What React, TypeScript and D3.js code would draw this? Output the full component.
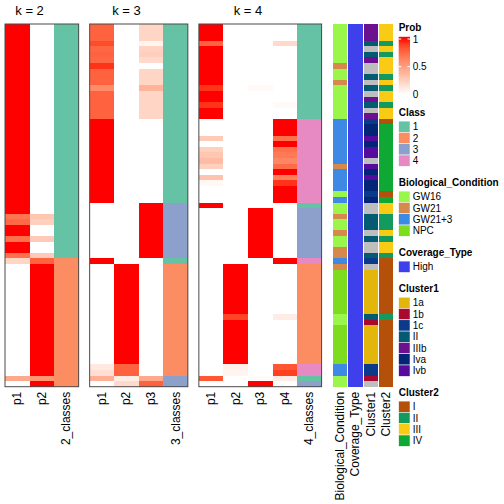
import React from "react";
import * as d3 from "d3";

// ---------- data (65 samples, top to bottom) ----------
const K2_P1 = [1,1,1,1,1,1,1,1,1,1,1,1,1,1,1,1,1,1,1,1,1,1,1,1,1,1,1,1,1,1,1,1,1,1,0.7,0.75,1,1,0.72,1,1,0.72,0.22,0,0,0,0,0,0,0,0,0,0,0,0,0,0,0,0,0,0,0,0,0.45,0];
const K2_P2 = [0,0,0,0,0,0,0,0,0,0,0,0,0,0,0,0,0,0,0,0,0,0,0,0,0,0,0,0,0,0,0,0,0,0,0.3,0.25,0,0,0.28,0,0,0.28,0.78,1,1,1,1,1,1,1,1,1,1,1,1,1,1,1,1,1,1,1,1,0.55,1];
const K2_CLASS = [1,1,1,1,1,1,1,1,1,1,1,1,1,1,1,1,1,1,1,1,1,1,1,1,1,1,1,1,1,1,1,1,1,1,1,1,1,1,1,1,1,1,2,2,2,2,2,2,2,2,2,2,2,2,2,2,2,2,2,2,2,2,2,2,2];

const K3_P1 = [0.78,0.78,0.78,0.86,0.76,0.78,0.76,0.93,0.78,0.78,0.78,0.6,0.78,0.78,0.78,0.78,0.78,1,1,1,1,1,1,1,1,1,1,1,1,1,1,1,0,0,0,0,0,0,0,0,0,0,1,0,0,0,0,0,0,0,0,0,0,0,0,0,0,0,0,0,0,0.12,0.17,0.42,0];
const K3_P2 = [0,0,0,0,0,0,0,0,0,0,0,0,0,0,0,0,0,0,0,0,0,0,0,0,0,0,0,0,0,0,0,0,0,0,0,0,0,0,0,0,0,0,0,1,1,1,1,1,1,1,1,1,1,1,1,1,1,1,1,1,1,0.78,0.78,0.1,0.2];
const K3_P3 = [0.22,0.22,0.22,0.06,0.24,0.26,0.2,0,0.22,0.22,0.22,0.4,0.22,0.22,0.22,0.22,0.22,0,0,0,0,0,0,0,0,0,0,0,0,0,0,0,1,1,1,1,1,1,1,1,1,1,0,0,0,0,0,0,0,0,0,0,0,0,0,0,0,0,0,0,0,0,0,0.45,0.78];
const K3_CLASS = [1,1,1,1,1,1,1,1,1,1,1,1,1,1,1,1,1,1,1,1,1,1,1,1,1,1,1,1,1,1,1,1,3,3,3,3,3,3,3,3,3,3,1,2,2,2,2,2,2,2,2,2,2,2,2,2,2,2,2,2,2,2,2,3,3];

const K4_P1 = [1,1,1,0.78,1,1,1,1,1,1,1,0.93,1,1,0.93,1,1,0,0,0,0.28,0,0.25,0.3,0.36,0.25,0,0.32,0.04,0,0,0,1,0,0,0,0,0,0,0,0,0,0,0,0,0,0,0,0,0,0,0,0,0,0,0,0,0,0,0,0,0,0,0.82,0];
const K4_P2 = [0,0,0,0,0,0,0,0,0,0,0,0,0,0,0,0,0,0,0,0,0,0,0,0,0,0,0,0,0,0,0,0,0,0,0,0,0,0,0,0,0,0,0,1,1,1,1,1,1,1,1,1,0.88,1,1,1,1,1,1,1,1,0.08,0.06,0,0];
const K4_P3 = [0,0,0,0,0,0,0,0,0,0,0,0.03,0,0,0,0,0,0,0,0,0,0,0,0,0,0,0,0,0,0,0,0,0,1,1,1,1,1,1,1,1,1,0,0,0,0,0,0,0,0,0,0,0,0,0,0,0,0,0,0,0,0,0,0.02,1];
const K4_P4 = [0,0,0,0.2,0,0,0,0,0,0,0,0,0,0,0.03,0,0,1,1,1,0.72,1,0.72,0.68,0.62,0.74,1,0.66,0.93,1,1,1,0,0,0,0,0,0,0,0,0,0,1,0,0,0,0,0,0,0,0,0,0.1,0,0,0,0,0,0,0,0,0.82,0.9,0.1,0];
const K4_CLASS = [1,1,1,1,1,1,1,1,1,1,1,1,1,1,1,1,1,4,4,4,4,4,4,4,4,4,4,4,4,4,4,4,1,3,3,3,3,3,3,3,3,3,4,2,2,2,2,2,2,2,2,2,2,2,2,2,2,2,2,2,2,4,4,1,3];

const BIO = ["GW16","GW16","GW16","GW16","GW16","GW16","GW16","GW21","GW16","GW16","GW21","GW16","GW16","GW16","GW16","GW16","GW16","GW21+3","GW21+3","GW21+3","GW21+3","GW21+3","GW21+3","GW21+3","GW21+3","GW21","GW21+3","GW21+3","GW21+3","GW21+3","GW16","GW21+3","GW16","GW16","GW21","GW16","GW16","GW21","GW16","GW16","GW21","GW21","GW21+3","GW21","NPC","NPC","NPC","NPC","NPC","NPC","NPC","NPC","GW16","GW16","NPC","NPC","NPC","NPC","NPC","NPC","NPC","GW21+3","GW21+3","GW16","GW16"];
const COVERAGE = Array.from({ length: 65 }, () => "High");
const CLUSTER1 = ["IIIb","IIIb","IIIb","II","NA","II","IIIb","NA","NA","II","NA","II","NA","IIIb","II","NA","IIIb","1c","Iva","Iva","Ivb","Iva","Ivb","Ivb","NA","Ivb","Iva","Ivb","Iva","Iva","1c","Iva","NA","NA","II","II","II","NA","II","NA","NA","II","1c","NA","1a","1a","1a","1a","1a","1a","1a","1a","II","1b","1a","1a","1a","1a","1a","1a","1a","1c","1c","1b","NA"];
const CLUSTER2 = ["III","III","III","II","III","II","III","III","III","II","III","II","III","III","II","III","III","I","IV","IV","IV","IV","IV","IV","IV","IV","IV","IV","IV","IV","I","IV","III","III","II","II","II","III","II","III","III","II","I","I","I","I","I","I","I","I","I","I","II","I","I","I","I","I","I","I","I","I","I","I","I"];

// ---------- legends ----------
const CLASS_LEVELS = ["1","2","3","4"];
const CLASS_COLORS = ["#66C2A5","#FC8D62","#8DA0CB","#E78AC3"];
const BIO_LEVELS = ["GW16","GW21","GW21+3","NPC"];
const BIO_COLORS = ["#9BF64B","#D5894B","#3D89E4","#7EDC1F"];
const COV_LEVELS = ["High"];
const COV_COLORS = ["#3D40EB"];
const CL1_LEVELS = ["1a","1b","1c","II","IIIb","Iva","Ivb"];
const CL1_COLORS = ["#E2B60A","#A8092C","#0C3A8A","#025A73","#6B1190","#032575","#550C9E"];
const CL2_LEVELS = ["I","II","III","IV"];
const CL2_COLORS = ["#B5500A","#139A5F","#FACB14","#0FA834"];
const NA_COLOR = "#BEBEBE";
const PROB_TICKS = [0, 0.5, 1];

const FONT = "'Liberation Sans', Arial, Helvetica, sans-serif";

export default function App() {
  const N = K2_P1.length;
  const top = 24;
  const bottom = 386.7;
  const rowY = d3.scaleBand<number>().domain(d3.range(N)).range([top, bottom]).padding(0);
  const probColor = d3
    .scaleLinear<string>()
    .domain([0, 1])
    .range(["#FFFFFF", "#FF0000"])
    .interpolate(d3.interpolateLab)
    .clamp(true);
  const classColor = d3.scaleOrdinal<string, string>().domain(CLASS_LEVELS).range(CLASS_COLORS);
  const bioColor = d3.scaleOrdinal<string, string>().domain(BIO_LEVELS).range(BIO_COLORS);
  const covColor = d3.scaleOrdinal<string, string>().domain(COV_LEVELS).range(COV_COLORS);
  const cl1Color = d3.scaleOrdinal<string, string>().domain(CL1_LEVELS).range(CL1_COLORS);
  const cl2Color = d3.scaleOrdinal<string, string>().domain(CL2_LEVELS).range(CL2_COLORS);

  const colW = 24.55;
  const panelGap = 11;
  const panels = [
    { title: "k = 2", probs: [K2_P1, K2_P2], cls: K2_CLASS, clsName: "2_classes" },
    { title: "k = 3", probs: [K3_P1, K3_P2, K3_P3], cls: K3_CLASS, clsName: "3_classes" },
    { title: "k = 4", probs: [K4_P1, K4_P2, K4_P3, K4_P4], cls: K4_CLASS, clsName: "4_classes" },
  ];
  let xCursor = 5;
  const panelLayout = panels.map((p) => {
    const ncol = p.probs.length + 1;
    const names = [...p.probs.map((_, i) => `p${i + 1}`), p.clsName];
    const x = d3.scaleBand<string>().domain(names).range([xCursor, xCursor + ncol * colW]);
    const res = { ...p, x, names, x0: xCursor, width: ncol * colW };
    xCursor += ncol * colW + panelGap;
    return res;
  });

  const annoStart = xCursor + 0.4;
  const annoW = 14.2;
  const annoStep = 15.3;
  const annos = [
    { name: "Biological_Condition", vals: BIO, color: (v: string) => bioColor(v) },
    { name: "Coverage_Type", vals: COVERAGE, color: (v: string) => covColor(v) },
    { name: "Cluster1", vals: CLUSTER1, color: (v: string) => (v === "NA" ? NA_COLOR : cl1Color(v)) },
    { name: "Cluster2", vals: CLUSTER2, color: (v: string) => (v === "NA" ? NA_COLOR : cl2Color(v)) },
  ];

  const labelY = bottom + 5;
  const cellH = rowY.bandwidth();

  // legends
  const lx = 398.7;
  const grid = 11.3;
  const labX = 412.7;
  const legendTitleGap = 12.8;
  const legendGap = 12;
  const probBarH = 59.5;
  const discrete = [
    { title: "Class", levels: CLASS_LEVELS, color: classColor },
    { title: "Biological_Condition", levels: BIO_LEVELS, color: bioColor },
    { title: "Coverage_Type", levels: COV_LEVELS, color: covColor },
    { title: "Cluster1", levels: CL1_LEVELS, color: cl1Color },
    { title: "Cluster2", levels: CL2_LEVELS, color: cl2Color },
  ];
  let ly = 24;
  const probTitleY = ly + 7.3;
  const probBarY = ly + legendTitleGap;
  const probY = d3.scaleLinear().domain([0, 1]).range([probBarY + 57.5, probBarY + 2.2]);
  ly = probBarY + probBarH + legendGap;
  const discLayout = discrete.map((d) => {
    const titleY = ly + 7.3;
    const bodyY = ly + legendTitleGap;
    ly = bodyY + d.levels.length * grid + legendGap;
    return { ...d, titleY, bodyY };
  });
  const gradStops = d3.range(0, 21).map((i) => {
    const yy = probBarY + (i / 20) * probBarH;
    return { off: i / 20, c: probColor(Math.max(0, Math.min(1, probY.invert(yy)))) };
  });

  return (
    <svg
      width={504}
      height={504}
      style={{ position: "absolute", left: 0, top: 0, background: "#fff" }}
      fontFamily={FONT}
    >
      <defs>
        <linearGradient id="probgrad" x1="0" y1="0" x2="0" y2="1">
          {gradStops.map((s, i) => (
            <stop key={i} offset={s.off} stopColor={s.c} />
          ))}
        </linearGradient>
      </defs>
      <rect x={0} y={0} width={504} height={504} fill="#fff" />
      {panelLayout.map((p, pi) => {
        const probNames = p.names.slice(0, -1);
        const titleX = ((p.x(probNames[0]) as number) + (p.x(probNames[probNames.length - 1]) as number) + colW) / 2;
        return (
          <g key={pi}>
            <text x={titleX} y={15.3} fontSize={13} textAnchor="middle">
              {p.title}
            </text>
            {p.probs.map((vals, ci) => (
              <g key={ci}>
                {vals.map((v, r) => (
                  <rect
                    key={r}
                    x={p.x(p.names[ci])}
                    y={rowY(r)}
                    width={p.x.bandwidth()}
                    height={cellH + 0.3}
                    fill={probColor(v)}
                    shapeRendering="crispEdges"
                  />
                ))}
              </g>
            ))}
            {p.cls.map((c, r) => (
              <rect
                key={"c" + r}
                x={p.x(p.clsName)}
                y={rowY(r)}
                width={p.x.bandwidth()}
                height={cellH + 0.3}
                fill={classColor(String(c))}
                shapeRendering="crispEdges"
              />
            ))}
            <rect x={p.x0} y={top} width={p.width} height={bottom - top} fill="none" stroke="#4a4a4a" strokeWidth={1} />
            {p.names.map((n) => (
              <text
                key={n}
                transform={`translate(${(p.x(n) as number) + colW / 2},${labelY}) rotate(-90)`}
                fontSize={12}
                textAnchor="end"
                dominantBaseline="central"
              >
                {n}
              </text>
            ))}
          </g>
        );
      })}
      {annos.map((a, ai) => {
        const ax = annoStart + ai * annoStep;
        return (
          <g key={a.name}>
            {a.vals.map((v, r) => (
              <rect
                key={r}
                x={ax}
                y={rowY(r)}
                width={annoW}
                height={cellH + 0.3}
                fill={a.color(v)}
                shapeRendering="crispEdges"
              />
            ))}
            <text
              transform={`translate(${ax + annoW / 2},${labelY}) rotate(-90)`}
              fontSize={12}
              textAnchor="end"
              dominantBaseline="central"
            >
              {a.name}
            </text>
          </g>
        );
      })}
      {/* Prob legend */}
      <text x={lx} y={probTitleY} fontSize={10} fontWeight="bold">
        Prob
      </text>
      <rect x={lx} y={probBarY} width={grid} height={probBarH} fill="url(#probgrad)" />
      {PROB_TICKS.map((t) => (
        <g key={t}>
          <line x1={lx} x2={lx + 2.5} y1={probY(t)} y2={probY(t)} stroke="#fff" strokeWidth={1} />
          <line x1={lx + grid - 2.5} x2={lx + grid} y1={probY(t)} y2={probY(t)} stroke="#fff" strokeWidth={1} />
          <text x={labX} y={probY(t)} fontSize={10} dominantBaseline="central">
            {String(t)}
          </text>
        </g>
      ))}
      {discLayout.map((d) => (
        <g key={d.title}>
          <text x={lx} y={d.titleY} fontSize={10} fontWeight="bold">
            {d.title}
          </text>
          {d.levels.map((lv, i) => (
            <g key={lv}>
              <rect
                x={lx}
                y={d.bodyY + i * grid}
                width={grid}
                height={grid}
                fill={d.color(lv)}
                stroke="#fff"
                strokeWidth={0.5}
              />
              <text x={labX} y={d.bodyY + i * grid + grid / 2} fontSize={10} dominantBaseline="central">
                {lv}
              </text>
            </g>
          ))}
        </g>
      ))}
    </svg>
  );
}
